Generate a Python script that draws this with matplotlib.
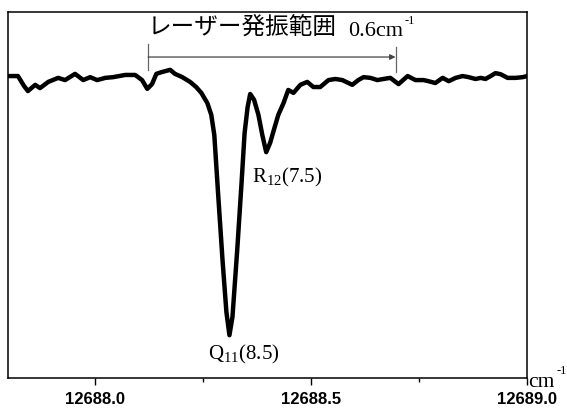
import numpy as np
import matplotlib
matplotlib.use('Agg')
import matplotlib.pyplot as plt
from matplotlib.ticker import MultipleLocator

# wavenumber (cm-1) and relative signal
wavenumber = [
    12687.802, 12687.823, 12687.837, 12687.846, 12687.863, 12687.874, 12687.893,
    12687.916, 12687.932, 12687.955, 12687.974, 12687.990, 12688.006, 12688.025,
    12688.043, 12688.071, 12688.094, 12688.110, 12688.122, 12688.133, 12688.143,
    12688.156, 12688.175, 12688.186, 12688.203, 12688.221, 12688.235, 12688.247,
    12688.261, 12688.270, 12688.277, 12688.286, 12688.296, 12688.305, 12688.312,
    12688.319, 12688.330, 12688.340, 12688.347, 12688.354, 12688.360, 12688.369,
    12688.379, 12688.388, 12688.397, 12688.406, 12688.416, 12688.425, 12688.437,
    12688.448, 12688.460, 12688.476, 12688.492, 12688.506, 12688.522, 12688.541,
    12688.557, 12688.573, 12688.596, 12688.610, 12688.622, 12688.638, 12688.654,
    12688.668, 12688.684, 12688.703, 12688.724, 12688.742, 12688.761, 12688.772,
    12688.788, 12688.805, 12688.819, 12688.835, 12688.851, 12688.865, 12688.881,
    12688.893, 12688.904, 12688.916, 12688.927, 12688.939, 12688.955, 12688.974,
    12688.990, 12689.001,
]
signal = [
    0.825, 0.825, 0.798, 0.784, 0.801, 0.792, 0.809,
    0.820, 0.814, 0.831, 0.814, 0.822, 0.814, 0.820,
    0.822, 0.828, 0.828, 0.814, 0.790, 0.803, 0.831,
    0.836, 0.842, 0.831, 0.822, 0.809, 0.795, 0.779,
    0.751, 0.719, 0.664, 0.500, 0.322, 0.180, 0.117,
    0.167, 0.350, 0.533, 0.669, 0.740, 0.776, 0.760,
    0.719, 0.664, 0.617, 0.642, 0.683, 0.719, 0.751,
    0.787, 0.779, 0.801, 0.809, 0.795, 0.795, 0.814,
    0.817, 0.814, 0.801, 0.814, 0.822, 0.820, 0.814,
    0.817, 0.820, 0.803, 0.825, 0.814, 0.814, 0.811,
    0.806, 0.820, 0.811, 0.820, 0.825, 0.822, 0.817,
    0.820, 0.817, 0.825, 0.833, 0.830, 0.820, 0.820,
    0.822, 0.825,
]
tick_values = [12688.0, 12688.5, 12689.0]
tick_labels = ['12688.0', '12688.5', '12689.0']

# laser scan range marker
range_start = 12688.124
range_end = 12688.696

SERIF = 'Liberation Serif'

fig = plt.figure(figsize=(5.67, 4.09), dpi=100)
ax = fig.add_axes([8/567, 31/409, 519/567, 366/409])

ax.plot(wavenumber, signal, color='black', lw=3.2,
        solid_joinstyle='round', solid_capstyle='round')

ax.set_xlim(12687.8, 12689.0)
ax.set_ylim(0, 1)
ax.set_yticks([])
ax.set_xticks(tick_values)
ax.set_xticklabels(tick_labels, fontfamily='Liberation Sans', fontweight='bold', fontsize=12)
ax.xaxis.set_minor_locator(MultipleLocator(0.25))
ax.tick_params(axis='x', which='major', direction='out', length=5, width=1, pad=5)
ax.tick_params(axis='x', which='minor', direction='out', length=3, width=1)
for s in ax.spines.values():
    s.set_linewidth(1.1)

# range arrow with end bars
ax.annotate('', xy=(range_end, 0.877), xytext=(range_start, 0.877),
            arrowprops=dict(arrowstyle='-|>', lw=0.9, color='#444444',
                            mutation_scale=8, shrinkA=0, shrinkB=0))
ax.plot([range_start, range_start], [0.842, 0.913], color='#666666', lw=0.9)
ax.plot([range_end, range_end], [0.836, 0.904], color='#666666', lw=0.9)

ax.text(range_start, 0.955, 'レーザー発振範囲', fontfamily=['Noto Sans CJK JP', 'DejaVu Sans'],
        fontsize=17, ha='left', va='center')
ax.text(12688.586, 0.935, '0.6cm', fontfamily=SERIF,
        fontsize=16, ha='left', va='baseline')
ax.text(12688.716, 0.966, '-1', fontfamily=SERIF,
        fontsize=9, ha='left', va='baseline')

ax.text(12688.263, 0.063, r'Q$_{\mathregular{11}}$(8.5)', fontfamily=SERIF,
        fontsize=15, ha='left', va='center')
ax.text(12688.365, 0.549, r'R$_{\mathregular{12}}$(7.5)', fontfamily=SERIF,
        fontsize=15, ha='left', va='center')

ax.text(1.003, -0.012, 'cm', transform=ax.transAxes,
        fontfamily=SERIF, fontsize=15.5, ha='left', va='center')
ax.text(1.057, 0.020, '-1', transform=ax.transAxes,
        fontfamily=SERIF, fontsize=9, ha='left', va='center')

fig.savefig('out.png', dpi=100, facecolor='white')
